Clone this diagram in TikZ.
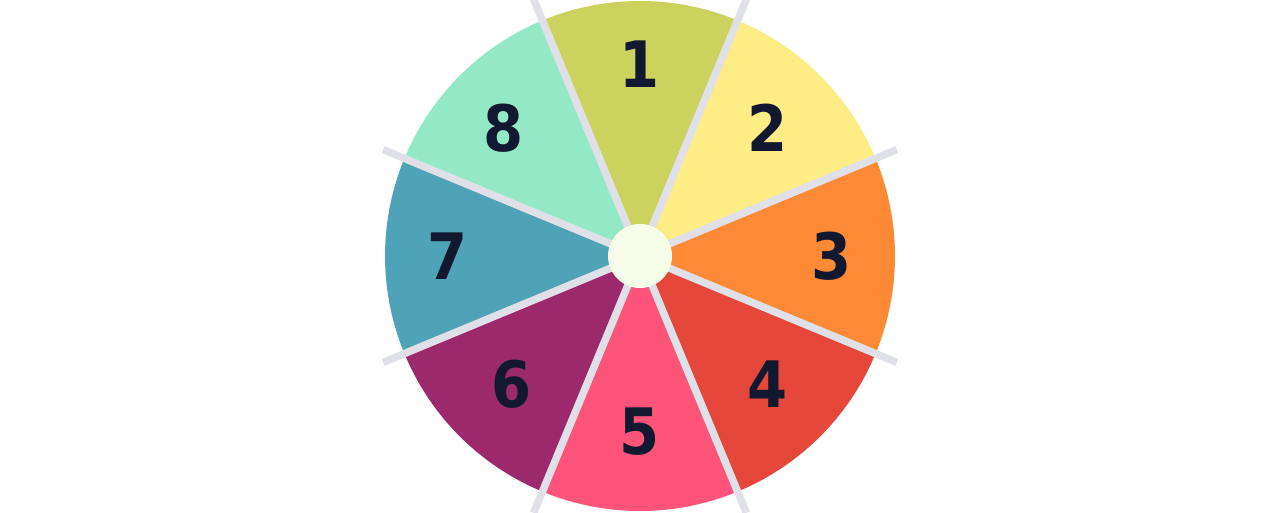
\documentclass[tikz,border=0pt]{standalone}
\usepackage{fontspec}
\setmainfont{DejaVu Sans Condensed}
\definecolor{cOlive}{HTML}{CBD35E}
\definecolor{cYellow}{HTML}{FEED85}
\definecolor{cOrange}{HTML}{FF8A35}
\definecolor{cRed}{HTML}{E5473B}
\definecolor{cPink}{HTML}{FF5479}
\definecolor{cPurple}{HTML}{9C296C}
\definecolor{cTeal}{HTML}{4FA3B7}
\definecolor{cMint}{HTML}{93E9C5}
\definecolor{cDiv}{HTML}{DFE0E8}
\definecolor{cHub}{HTML}{F5FDE8}
\definecolor{cInk}{HTML}{111830}
\begin{document}
\begin{tikzpicture}[x=1pt,y=1pt,
  divider/.style={draw=cDiv,line width=7.5pt},
  hubnode/.style={circle,fill=cHub,minimum size=64pt,inner sep=0pt},
  numlabel/.style={text=cInk,font=\fontsize{64}{64}\selectfont\bfseries,inner sep=0pt,anchor=center}]
\useasboundingbox (0,0) rectangle (1280,512);
\fill[white] (0,0) rectangle (1280,512);
\clip (0,0) rectangle (1280,512);
\coordinate (c) at (640,256);
\foreach \k/\col in {1/cOlive,2/cYellow,3/cOrange,4/cRed,5/cPink,6/cPurple,7/cTeal,8/cMint}{
  \pgfmathsetmacro{\a}{90-45*(\k-1)}
  \fill[\col] (c) -- ++(\a-22.5:255) arc[start angle=\a-22.5,end angle=\a+22.5,radius=255] -- cycle;
}
\foreach \k in {1,...,8}{
  \pgfmathsetmacro{\b}{112.5-45*(\k-1)}
  \path (c) ++(\b:278) coordinate (e\k);
  \draw[divider] (c) -- (e\k);
}
\node[hubnode] (hub) at (c) {};
\node[numlabel] (n1) at (640,448) {1};
\node[numlabel] (n2) at (768,384) {2};
\node[numlabel] (n3) at (832,256) {3};
\node[numlabel] (n4) at (768,128) {4};
\node[numlabel] (n5) at (640,80) {5};
\node[numlabel] (n6) at (512,128) {6};
\node[numlabel] (n7) at (448,256) {7};
\node[numlabel] (n8) at (504,384) {8};
\end{tikzpicture}
\end{document}
